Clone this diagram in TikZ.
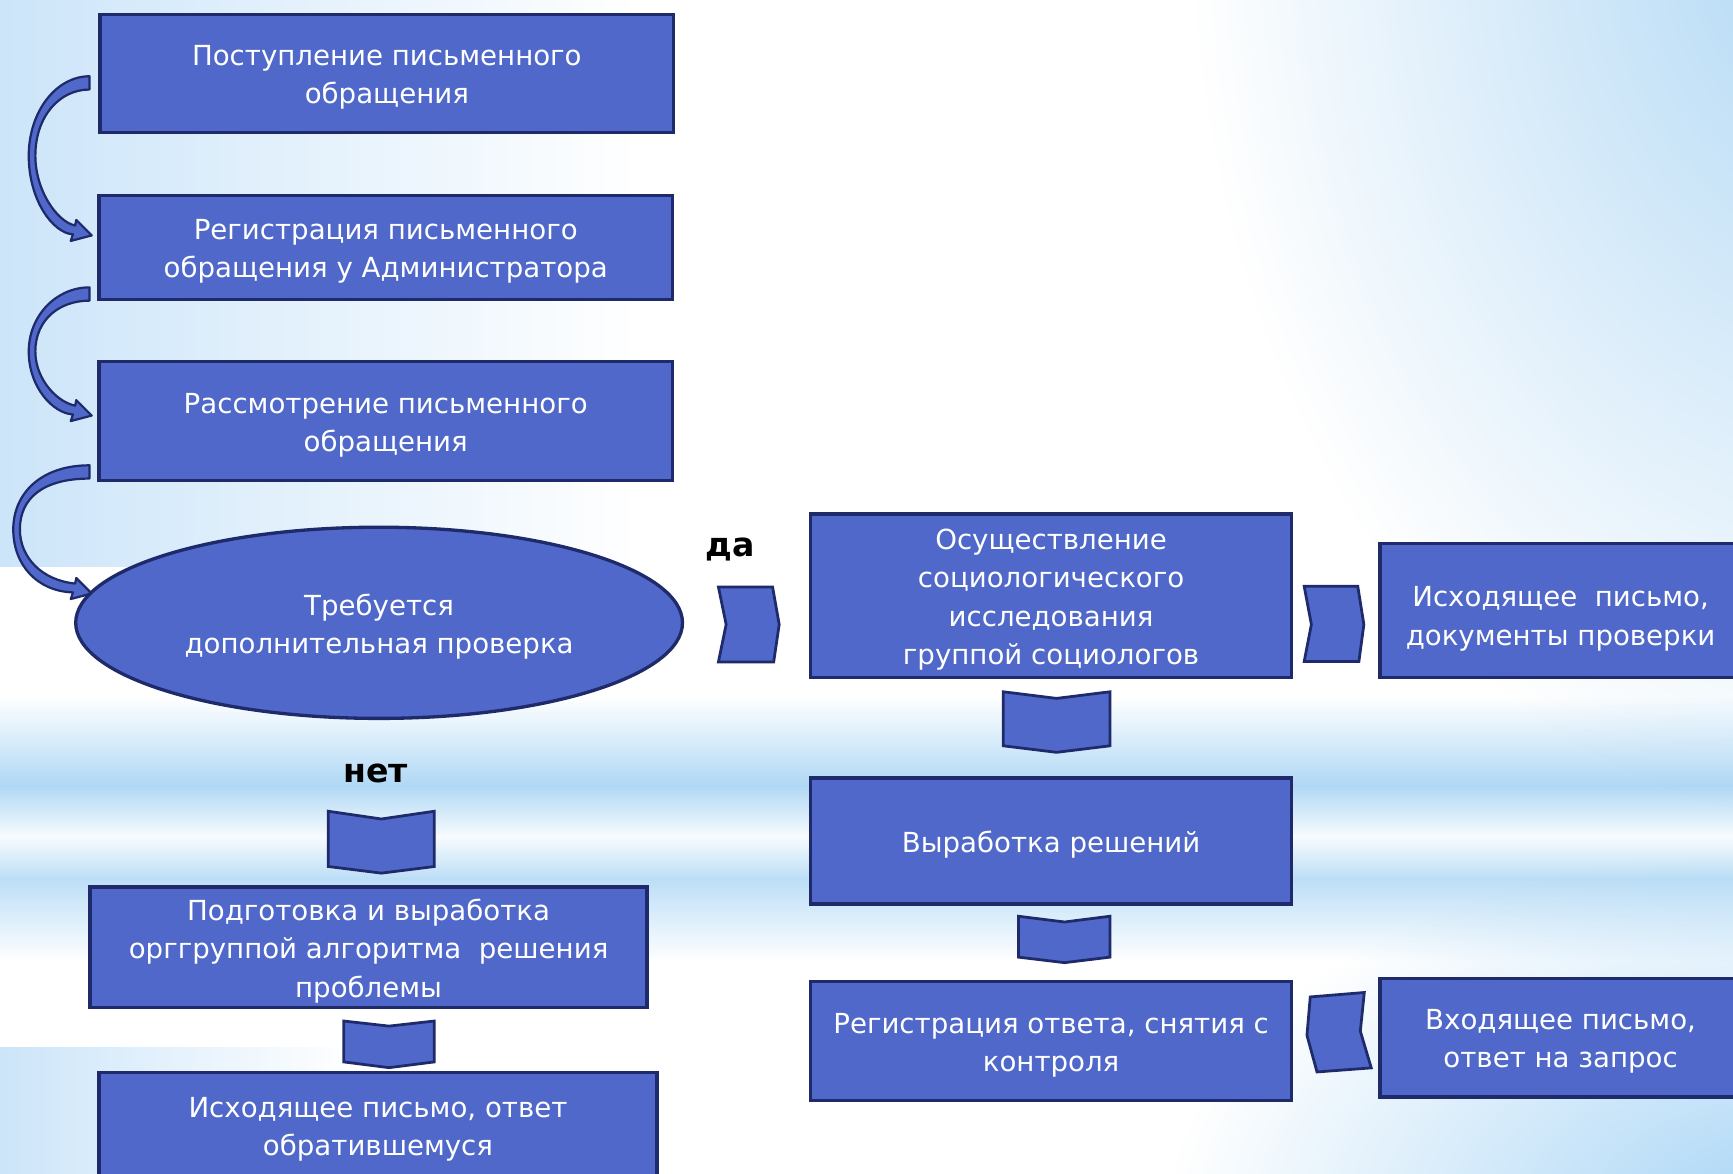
\documentclass[tikz,border=0pt]{standalone}
\usepackage{fontspec}
\setmainfont{DejaVu Sans}
\usetikzlibrary{shapes.geometric,fadings}
\definecolor{boxblue}{RGB}{79,104,201}
\definecolor{navy}{RGB}{30,42,105}
\definecolor{bgL}{RGB}{204,229,249}
\definecolor{bgB}{RGB}{176,216,245}
\definecolor{bgC}{RGB}{168,213,246}
\tikzfading[name=radfade, inner color=transparent!0, outer color=transparent!100]
\begin{document}
\begin{tikzpicture}[x=1pt,y=-1pt,
  box/.style={draw=navy, line width=3pt, fill=boxblue, inner sep=0pt},
  boxtext/.style={text=white, align=center, inner sep=0pt, yshift=-3.5pt,
    font=\fontsize{25}{34.5}\selectfont},
  chev/.style={draw=navy, line width=2.5pt, fill=boxblue, line join=miter},
  curv/.style={draw=navy, line width=2pt, fill=boxblue, line join=round},
  lbl/.style={font=\bfseries\fontsize{30}{36}\selectfont, text=black, inner sep=0pt}]
\useasboundingbox (0,0) rectangle (1568,1062);
% ---------- background ----------
\fill[white] (0,0) rectangle (1568,1062);
\shade[top color=white, bottom color=bgB] (0,630) rectangle (1568,711);
\shade[top color=bgB, bottom color=white!90!bgB] (0,711) rectangle (1568,757);
\shade[top color=white!90!bgB, bottom color=bgB!85!white] (0,757) rectangle (1568,795);
\shade[top color=bgB!85!white, bottom color=white] (0,795) rectangle (1568,870);
\shade[left color=bgL, right color=white] (0,0) rectangle (580,513);
\shade[left color=bgL, right color=white] (0,948) rectangle (320,1062);
\fill[bgB, path fading=radfade] (1660,-80) ellipse (580 and 820);
\fill[bgC, path fading=radfade] (1620,1100) ellipse (560 and 330);
% ---------- curved arrows on the left ----------
\foreach \ya/\yb/\xl in {69/213/26, 260/376/26, 421/537/12}{
  \pgfmathsetmacro{\ym}{(\ya+\yb)/2}
  \pgfmathsetmacro{\hh}{\yb-\ya}
  \path[curv] (81,\ya) .. controls ({\xl+25},\ya) and (\xl,{\ya+0.22*\hh}) .. (\xl,\ym)
     .. controls (\xl,{\yb-0.22*\hh}) and ({\xl+22},{\yb-2}) .. (66,{\yb-1})
     -- (64,{\yb+5}) -- (83,{\yb}) -- (69,{\yb-14}) -- (68,{\yb-9})
     .. controls ({\xl+26},{\yb-12}) and ({\xl+6},{\yb-0.28*\hh}) .. ({\xl+6},\ym)
     .. controls ({\xl+6},{\ya+0.25*\hh}) and ({\xl+28},{\ya+12}) .. (81,{\ya+12}) -- cycle;
}
% ---------- boxes ----------
\node[box, minimum width=519, minimum height=107] (b1) at (350,66.5) {};
\node[box, minimum width=519, minimum height=94] (b2) at (349,224) {};
\node[box, minimum width=519, minimum height=108] (b3) at (349,381) {};
\node[box, ellipse, minimum width=549, minimum height=173] (e1) at (343,563.5) {};
\node[box, minimum width=435, minimum height=148] (b4) at (951,539) {};
\node[box, minimum width=327, minimum height=121] (b5) at (1412,552.4) {};
\node[box, minimum width=435, minimum height=114] (b6) at (951,761) {};
\node[box, minimum width=435, minimum height=108] (b7) at (951,942) {};
\node[box, minimum width=327, minimum height=107] (b8) at (1412,939) {};
\node[box, minimum width=504, minimum height=109] (b9) at (333.5,857) {};
\node[box, minimum width=505, minimum height=95] (b10) at (342,1018) {};
% ---------- box texts ----------
\node[boxtext] (t1) at (b1.center) {Поступление письменного\\обращения};
\node[boxtext] (t2) at (b2.center) {Регистрация письменного\\обращения у Администратора};
\node[boxtext] (t3) at (b3.center) {Рассмотрение письменного\\обращения};
\node[boxtext] (te) at (e1.center) {Требуется\\дополнительная проверка};
\node[boxtext] (t4) at (b4.center) {Осуществление\\социологического\\исследования\\группой социологов};
\node[boxtext] (t5) at ([yshift=-4pt]b5.center) {Исходящее\ \ письмо,\\документы проверки};
\node[boxtext] (t6) at (b6.center) {Выработка решений};
\node[boxtext] (t7) at (b7.center) {Регистрация ответа, снятия с\\контроля};
\node[boxtext] (t8) at (b8.center) {Входящее письмо,\\ответ на запрос};
\node[boxtext] (t9) at (b9.center) {Подготовка и выработка\\орггруппой алгоритма\ \ решения\\проблемы};
\node[boxtext] (t10) at (b10.center) {Исходящее письмо, ответ\\обратившемуся};
% ---------- labels ----------
\node[lbl] (da) at (661,497) {да};
\node[lbl] (net) at (340,700) {нет};
% ---------- chevrons ----------
\path[chev] (650,531) -- (699,531) -- (705,565) -- (700,599) -- (650,599) -- (657,565) -- cycle;
\path[chev] (1180,530.5) -- (1228.5,530.5) -- (1234,565) -- (1229.5,598.5) -- (1180,598.5) -- (1186.5,565) -- cycle;
\path[chev] (907.7,625.9) -- (956,631.9) -- (1004.3,625.9) -- (1004.3,674.8) -- (956,680.7) -- (907.7,674.8) -- cycle;
\path[chev] (921.5,829) -- (963.2,834.2) -- (1004.3,829) -- (1004.3,866) -- (963.2,871) -- (921.5,866) -- cycle;
\path[chev] (1185.5,902) -- (1234.4,898) -- (1230.8,933) -- (1240.7,966.2) -- (1191.6,969.9) -- (1182.5,936.7) -- cycle;
\path[chev] (297,734) -- (345,741) -- (393,734) -- (393,784) -- (345,790) -- (297,784) -- cycle;
\path[chev] (311,923.8) -- (352,928.4) -- (393,923.8) -- (393,960.8) -- (352,966) -- (311,960.8) -- cycle;
\end{tikzpicture}
\end{document}
